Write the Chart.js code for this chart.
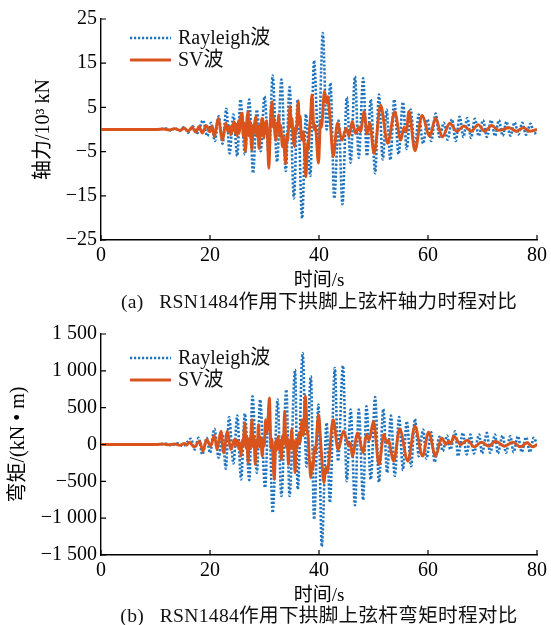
<!DOCTYPE html>
<html>
<head>
<meta charset="utf-8">
<script src="https://cdn.jsdelivr.net/npm/chart.js@4.4.0/dist/chart.umd.min.js"></script>
<style>
  body { margin: 0; background: #fff; width: 551px; height: 625px; position: relative; overflow: hidden; }
  canvas { position: absolute; left: 0; }
  .cap { position: absolute; left: 0; width: 638px; text-align: center; white-space: pre; color: #111;
         font: 19.6px 'Liberation Serif', 'Noto Sans CJK SC'; line-height: 24px; letter-spacing: 0.3px; }
</style>
</head>
<body>
<canvas id="axialChart" width="551" height="292" style="top:0"></canvas>
<div class="cap" style="top:290px">(a)   RSN1484作用下拱脚上弦杆轴力时程对比</div>
<canvas id="momentChart" width="551" height="292" style="top:315px"></canvas>
<div class="cap" style="top:604px">(b)   RSN1484作用下拱脚上弦杆弯矩时程对比</div>
<script>
// axis ticks
const X_TICKS = [0, 20, 40, 60, 80];
const AXIAL_TICKS = [-25, -15, -5, 5, 15, 25];
const MOMENT_TICKS = [-1500, -1000, -500, 0, 500, 1000, 1500];
const SERIES_NAMES = ['Rayleigh波', 'SV波'];

// (a) axial force, 10^3 kN -- Rayleigh wave (turning points)
const axialRayT = [0, 10, 12, 12.8, 13.6, 14.4, 15.2, 16.0, 16.8, 17.7, 18.7, 19.5, 20.2, 20.9, 21.6, 22.3, 23.0, 23.6, 24.3, 25.0,
  25.6, 26.4, 27.2, 27.9, 28.6, 29.3, 30.0, 30.8, 31.5, 32.3, 33.1, 33.9, 34.6, 35.4, 36.1, 36.9, 37.6, 38.4, 39.1, 39.9,
  40.7, 41.4, 42.1, 42.8, 43.6, 44.3, 45.1, 45.8, 46.6, 47.3, 48.1, 48.8, 49.5, 50.3, 51.0, 51.7, 52.4, 53.1, 53.8, 54.6,
  55.4, 56.1, 56.8, 57.6, 58.3, 59.1, 59.9, 60.6, 61.4, 62.1, 62.9, 63.6, 64.4, 65.1, 65.8, 66.5, 67.2, 67.9, 68.6, 69.3,
  70.1, 70.8, 71.6, 72.3, 73.0, 73.7, 74.4, 75.1, 75.9, 76.6, 77.3, 78.0, 78.8, 79.5, 80];
const axialRayV = [0, 0, 0.2, -0.2, 0.3, -0.3, 0.5, -0.7, 0.7, -0.8, 2.1, -1.5, 1.5, -2.6, 3.0, -3.2, 4.7, -5.4, 3.4, -6.0,
  6.8, -5.6, 6.8, -9.9, 4.5, -4.9, 7.5, -6.0, 12.2, -7.3, 11.3, -9.4, 9.6, -15.6, 6.8, -20.1, 3.4, -10.5, 15.6, -4.0,
  21.8, 0, 10.5, -15.6, 2.0, -16.9, 7.3, -7.5, 12.0, -6.4, 11.6, -6.0, 6.8, -9.9, 7.9, -6.8, 4.5, -6.9, 6.8, -5.6,
  6.2, -4.4, 4.5, -4.5, 3.4, -3.2, 2.3, -2.6, 3.6, -1.7, 1.5, -2.3, 2.3, -2.6, 2.9, -1.7, 2.6, -1.9, 2.4, -1.5,
  2.1, -1.7, 2.1, -1.5, 2.1, -1.4, 1.8, -1.4, 1.6, -1.1, 1.5, -1.2, 1.3, -0.9, -0.3];

// (a) axial force -- SV wave
const axialSvT = [0, 10, 11.5, 12.5, 13.5, 14.5, 15.3, 16.0, 16.7, 17.4, 18.0, 18.6, 19.3, 20.0, 20.4, 20.8, 21.5, 22.3, 22.9, 23.3,
  23.6, 23.8, 24.4, 24.6, 24.8, 25.0, 25.2, 25.4, 25.6, 25.9, 26.1, 26.25, 26.5, 26.75, 27.0, 27.2, 27.35, 27.5, 27.7, 27.9,
  28.05, 28.2, 28.4, 28.6, 28.75, 29.0, 29.2, 29.35, 29.5, 29.7, 29.9, 30.05, 30.2, 30.4, 30.8, 31.1, 31.4, 31.6, 31.75, 31.9,
  32.1, 32.3, 32.45, 32.6, 32.8, 32.95, 33.3, 33.45, 33.6, 33.9, 34.1, 34.25, 34.45, 34.7, 34.9, 35.05, 35.2, 35.5, 35.7, 35.85,
  36.2, 36.4, 36.55, 36.7, 36.9, 37.1, 37.3, 37.6, 37.9, 38.05, 38.2, 38.45, 38.7, 39.1, 39.3, 39.9, 40.3, 40.45, 41.0, 41.4,
  41.6, 42.0, 42.6, 43.4, 44.2, 45.0, 45.5, 46.1, 46.7, 47.3, 47.6, 48.3, 48.8, 49.3, 50.1, 51.3, 52.6, 53.9, 55.0, 55.6,
  56.0, 56.5, 57.6, 58.9, 60.3, 61.4, 62.6, 64.0, 65.3, 66.6, 67.9, 69.2, 70.4, 71.7, 73.0, 74.9, 76.2, 77.5, 78.7, 80];
const axialSvV = [0, 0, 0.1, -0.1, 0.2, -0.2, 0.3, -0.4, 0.5, -0.6, 0.7, -0.8, 0.9, -0.5, 0.8, -1.6, 2.5, -2.4, 1.5, -0.5,
  0.8, -1.2, 1.8, -0.8, 1.2, -1.5, 2.0, -0.8, 2.8, 3.7, -1.5, 1.5, -5.0, 2.0, 4.0, -1.5, 1.8, -2.0, -4.6, 1.0,
  -1.0, 1.5, 2.9, -1.5, 0.8, -4.3, 1.2, -1.5, 2.5, 2.1, -2.0, 1.5, -1.0, 2.0, -8.8, 2.0, 6.3, 0.5, 2.5, -1.0,
  -2.4, 1.5, -0.5, 3.3, -1.5, 1.0, -3.9, -1.5, -3.5, -7.7, -1.0, -2.5, 1.0, 5.2, 0.5, 2.5, -1.0, -3.9, 0.5, -0.5,
  6.3, 1.0, 3.0, -1.0, -2.4, -0.5, -4.0, -10.7, -3.0, -4.5, -0.8, 3.0, 7.8, 0, 1.0, -7.6, 2.0, 0.5, 8.6, 6.0,
  7.4, 3.0, -6.1, 1.5, -2.4, 0.3, -1.5, 1.8, -0.9, 0.5, -0.5, 4.0, -1.0, 1.5, -5.4, 5.5, -3.1, 4.0, -2.4, 0.5,
  -0.5, 4.1, -4.8, 3.2, -1.5, 2.6, -1.7, 1.4, -0.4, 0.8, -0.4, 1.1, -0.4, 0.9, -0.2, 0.4, -0.4, 0.4, -0.4, 0];

// (b) bending moment, kN·m -- Rayleigh wave
const momentRayT = [0, 10, 12, 13, 14, 15, 15.8, 16.5, 17.2, 17.9, 18.6, 19.4, 20.0, 20.8, 21.6, 22.3, 22.9, 23.5, 24.3, 25.0,
  25.7, 26.4, 27.2, 27.8, 28.6, 29.2, 30.1, 30.8, 31.5, 32.4, 33.1, 34.0, 34.6, 35.6, 36.1, 37.0, 37.7, 38.5, 39.1, 39.9,
  40.5, 41.4, 42.0, 42.9, 43.5, 44.4, 45.1, 45.8, 46.6, 47.3, 48.1, 48.7, 49.5, 50.3, 51.0, 51.8, 52.5, 53.2, 53.9, 54.7,
  55.4, 56.1, 56.9, 57.6, 58.3, 59.1, 59.7, 60.6, 61.2, 62.1, 62.7, 63.5, 64.1, 65.0, 65.5, 66.4, 67.1, 67.8, 68.4, 69.4,
  69.9, 70.8, 71.4, 72.3, 72.8, 73.7, 74.3, 75.1, 75.7, 76.5, 77.2, 78.0, 78.7, 79.4, 80];
const momentRayV = [0, 0, 10, -10, 15, -20, 30, 77, -68, 90, -135, 90, -113, 212, -180, 150, -329, 374, -257, 392,
  -474, 420, -483, 654, -383, 609, -586, 519, -925, 609, -699, 744, -699, 1015, -609, 1240, -300, 925, -1015, 541,
  -1385, 293, -789, 1037, -225, 1069, -496, 473, -825, 473, -753, 519, -474, 645, -510, 482, -383, 392, -428, 374,
  -347, 316, -293, 347, -158, 203, -194, 167, -239, 104, -90, 122, -68, 180, -158, 158, -135, 135, -122, 135,
  -122, 158, -113, 135, -122, 122, -113, 113, -104, 113, -104, 100, -104, 90, 0];

// (b) bending moment -- SV wave
const momentSvT = [0, 10, 11.5, 12.5, 13.5, 14.5, 15.3, 15.7, 16.2, 17.1, 18.1, 18.7, 19.4, 20.1, 20.8, 21.3, 22.0, 22.5, 23.2, 23.8,
  24.5, 24.7, 24.85, 25.1, 25.3, 25.5, 25.7, 25.9, 26.05, 26.4, 26.6, 26.75, 27.0, 27.2, 27.35, 27.7, 27.9, 28.05, 28.3, 28.5,
  28.65, 28.9, 29.1, 29.25, 29.6, 29.8, 29.95, 30.2, 30.45, 30.6, 30.9, 31.2, 31.35, 31.8, 32.05, 32.2, 32.5, 32.7, 32.85, 33.1,
  33.3, 33.45, 33.7, 33.95, 34.1, 34.4, 34.6, 34.75, 35.0, 35.2, 35.35, 35.6, 35.85, 36.0, 36.3, 36.5, 36.9, 37.1, 37.5, 37.8,
  38.0, 38.2, 38.5, 38.75, 38.9, 39.15, 39.3, 39.9, 40.4, 40.9, 41.3, 41.5, 42.6, 43.5, 44.5, 45.5, 45.8, 46.1, 47.1, 48.1,
  48.7, 49.2, 50.0, 51.0, 51.9, 52.4, 52.7, 53.7, 54.8, 56.3, 57.6, 59.0, 60.1, 61.4, 62.5, 63.3, 63.8, 64.2, 64.7, 66.0,
  67.2, 68.5, 69.8, 71.1, 72.4, 74.0, 75.6, 76.9, 78.2, 79.2, 80];
const momentSvV = [0, 0, 5, -5, 8, -10, 15, -10, 30, -32, 45, -90, 68, -23, 122, -68, 180, -113, 180, -68,
  68, -20, 60, 45, -60, 20, -158, 60, -20, 293, -50, 120, -248, 80, -60, 338, -30, 120, -270, 60,
  -40, 270, -30, 100, -158, 80, -20, 338, 150, 250, 631, -50, 80, -474, 50, -80, 113, -80, 60, -203,
  120, 0, 451, -40, 120, -270, 50, -50, 203, -60, 60, -383, 60, -50, 158, 20, 338, 120, 663, 200,
  113, -150, -451, -250, -320, -40, -120, 406, -68, -519, -300, -380, 338, -68, 180, -20, 20, -158, 158, -113,
  135, 60, 316, -270, 135, 20, 60, -225, 212, -225, 248, -158, 167, -158, 90, 0, 40, 10, 113, 0,
  59, -32, 32, -23, 45, -23, 32, -32, 23, -32, 0];

const FONT = "'Liberation Serif', 'Noto Sans CJK SC'";
const BLUE = '#1f74bf';
const ORANGE = '#d9541d';

function toPoints(ts, vs) {
  return ts.map((t, i) => ({ x: t, y: vs[i] }));
}

function fmtNum(v, thousands) {
  let s = String(Math.abs(v));
  if (thousands && s.length > 3) s = s.slice(0, -3) + ' ' + s.slice(-3);
  return (v < 0 ? '\u2212' : '') + s;
}

// ticks pointing into the plot
const innerTicks = {
  id: 'innerTicks',
  afterDraw(chart) {
    const { ctx, chartArea: a, scales } = chart;
    ctx.save();
    ctx.strokeStyle = '#000';
    ctx.lineWidth = 1.2;
    ctx.beginPath();
    scales.x.ticks.forEach(t => {
      const px = scales.x.getPixelForValue(t.value);
      ctx.moveTo(px, a.bottom); ctx.lineTo(px, a.bottom - 5);
    });
    scales.y.ticks.forEach(t => {
      const py = scales.y.getPixelForValue(t.value);
      ctx.moveTo(a.left, py); ctx.lineTo(a.left + 5, py);
    });
    ctx.stroke();
    ctx.restore();
  }
};

// legend drawn inside the plot, top-left
const insideLegend = {
  id: 'insideLegend',
  afterDraw(chart, args, opts) {
    const { ctx, chartArea: a } = chart;
    ctx.save();
    ctx.font = '20px ' + FONT;
    ctx.textBaseline = 'middle';
    ctx.fillStyle = '#111';
    chart.data.datasets.forEach((ds, i) => {
      const y = a.top + opts.top + i * 22;
      ctx.strokeStyle = ds.borderColor;
      ctx.lineWidth = ds.borderWidth;
      ctx.setLineDash(ds.borderDash || []);
      ctx.beginPath();
      ctx.moveTo(a.left + 29, y); ctx.lineTo(a.left + 70, y);
      ctx.stroke();
      ctx.setLineDash([]);
      ctx.fillText(ds.label, a.left + 77, y + 1);
    });
    ctx.restore();
  }
};

function makeChart(id, ray, sv, yTicks, yTitle, leftPad, legendTop, thousands) {
  return new Chart(document.getElementById(id), {
    type: 'line',
    data: {
      datasets: [{
        label: SERIES_NAMES[0],
        data: ray,
        borderColor: BLUE,
        borderWidth: 2.6,
        borderDash: [2.2, 1.8],
        pointRadius: 0,
        cubicInterpolationMode: 'monotone',
        order: 2
      }, {
        label: SERIES_NAMES[1],
        data: sv,
        borderColor: ORANGE,
        borderWidth: 2.9,
        pointRadius: 0,
        cubicInterpolationMode: 'monotone',
        order: 1
      }]
    },
    options: {
      responsive: false,
      animation: false,
      devicePixelRatio: 1,
      layout: { padding: { left: leftPad, right: 9, top: 19, bottom: 0 } },
      plugins: {
        legend: { display: false },
        tooltip: { enabled: false },
        insideLegend: { top: legendTop }
      },
      scales: {
        x: {
          type: 'linear',
          min: 0, max: 80,
          afterBuildTicks: s => { s.ticks = X_TICKS.map(v => ({ value: v })); },
          afterFit: s => { s.height = 52; },
          grid: { display: false, drawTicks: false },
          border: { display: true, color: '#000', width: 1.4 },
          ticks: { color: '#000', padding: 4, maxRotation: 0, font: { family: FONT, size: 20 } },
          title: { display: true, text: '时间/s', color: '#000', padding: 0, font: { family: FONT, size: 19 } }
        },
        y: {
          min: yTicks[0], max: yTicks[yTicks.length - 1],
          afterBuildTicks: s => { s.ticks = yTicks.map(v => ({ value: v })); },
          afterFit: s => { s.width = 101 - leftPad; },
          grid: { display: false, drawTicks: false },
          border: { display: true, color: '#000', width: 1.4 },
          ticks: { color: '#000', padding: 4, font: { family: FONT, size: 20 },
                   callback: v => fmtNum(v, thousands) },
          title: { display: true, text: yTitle, color: '#000', padding: 0, font: { family: FONT, size: 20 } }
        }
      }
    },
    plugins: [innerTicks, insideLegend]
  });
}

makeChart('axialChart', toPoints(axialRayT, axialRayV), toPoints(axialSvT, axialSvV),
  AXIAL_TICKS, '轴力/10³ kN', 32, 19, false);
makeChart('momentChart', toPoints(momentRayT, momentRayV), toPoints(momentSvT, momentSvV),
  MOMENT_TICKS, '弯矩/(kN • m)', 7, 24, true);
</script>
</body>
</html>
